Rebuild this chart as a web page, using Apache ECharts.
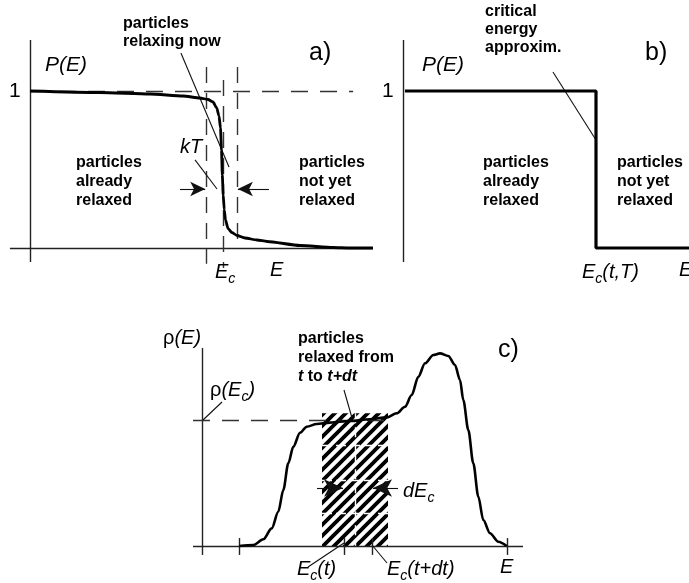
<!DOCTYPE html>
<html><head><meta charset="utf-8">
<script src="https://cdn.jsdelivr.net/npm/echarts@6/dist/echarts.min.js"></script>
<style>html,body{margin:0;padding:0;background:#fff}#c{width:689px;height:583px}</style>
</head><body><div id="c"></div>
<script>
// ---------- DATA ----------
// Panel a: E in units of Ec, P(E) in 0..1
const curveA = [[0,1.0],[0.3627,0.9904],[0.6218,0.9809],[0.7927,0.9682],[0.8808,0.9554],[0.9223,0.9459],[0.9482,0.9299],[0.9674,0.8917],[0.9793,0.8408],[0.9870,0.7643],[0.9922,0.6242],[0.9964,0.4650],[1.0010,0.3376],[1.0067,0.2420],[1.0130,0.1783],[1.0259,0.1242],[1.0466,0.0987],[1.0725,0.0796],[1.1140,0.0637],[1.1762,0.0510],[1.2280,0.0414],[1.3990,0.0159],[1.5699,0.0032],[1.6580,0],[1.777,0]];
const EcA = 1.0;
const kTWindow = [0.912, 1.073];
// Panel b: critical energy step
const stepB = [[0.01,1],[1,1],[1,0],[1.482,0]];
// Panel c: density of states rho(E), rho(Ec) = 1
const curveC = [[0.373,0],[0.513,0.008],[0.613,0.053],[0.697,0.140],[0.763,0.272],[0.813,0.444],[0.863,0.656],[0.913,0.788],[0.98,0.899],[1.047,0.947],[1.147,0.968],[1.28,0.979],[1.48,0.992],[1.68,1.006],[1.847,1.021],[1.947,1.053],[2.03,1.105],[2.097,1.198],[2.163,1.343],[2.23,1.450],[2.313,1.516],[2.38,1.529],[2.463,1.508],[2.53,1.437],[2.58,1.317],[2.613,1.159],[2.663,0.921],[2.713,0.656],[2.763,0.392],[2.813,0.206],[2.88,0.101],[2.963,0.034],[3.047,0]];
const rhoEc = 1;
const EcT = 1.42, EcTdt = 1.70;
const ticksC = [0.373, 1.42, 1.70, 3.05];
const hatchC = [1.20, 1.86, 1.053];
const hatchGridX = [1.53];
const hatchGridY = [0.80, 0.52, 0.26];

// ---------- STYLE / LAYOUT ----------
const F = '"Liberation Sans", Arial, sans-serif';
function gridFor(x0, sx, y0, sy, xr, yr){
  return {left: x0 + xr[0]*sx, width: (xr[1]-xr[0])*sx, top: y0 - yr[1]*sy, height: (yr[1]-yr[0])*sy};
}
const G = [
  {x0:30, sx:193, y0:248, sy:157, xr:[-0.12,1.8], yr:[-0.15,1.4]},
  {x0:403, sx:193, y0:248, sy:157, xr:[-0.05,1.48], yr:[-0.15,1.4]},
  {x0:202, sx:100, y0:546, sy:126, xr:[-0.1,3.3], yr:[-0.2,1.6]}
];
const axisStyle = {color:'#222', width:1.4, type:'solid'};
const dashStyle = {color:'#333', width:1.4, type:[17,12]};
const vdashStyle = {color:'#333', width:1.4, type:[16,10]};
const thinStyle = {color:'#111', width:1.1, type:'solid'};
const whiteStyle = {color:'#fff', width:1.4, type:[10,4]};
function seg(p, q, style, s1, s2, sz){
  const size = sz || [11,15];
  return [{coord:p, symbol:s1||'none', symbolSize:size, lineStyle:style},
          {coord:q, symbol:s2||'none', symbolSize:size, lineStyle:style}];
}
function ml(data){ return {silent:true, animation:false, label:{show:false}, emphasis:{disabled:true}, data:data}; }

// pattern for hatch
const pc = document.createElement('canvas'); pc.width = 11; pc.height = 11;
const g2 = pc.getContext('2d'); g2.strokeStyle = '#000'; g2.lineWidth = 3.8; g2.lineCap='square';
g2.beginPath(); g2.moveTo(-2,13); g2.lineTo(13,-2); g2.moveTo(-2,2); g2.lineTo(2,-2); g2.moveTo(9,13); g2.lineTo(13,9); g2.stroke();

const chart = echarts.init(document.getElementById('c'), null, {renderer:'canvas'});

const markA = ml([
  seg([-0.104,0],[1.777,0], axisStyle),
  seg([0,1.325],[0,-0.089], axisStyle),
  seg([0,1],[1.674,1], dashStyle),
  seg([kTWindow[0],1.153],[kTWindow[0],-0.1], vdashStyle),
  seg([kTWindow[1],1.153],[kTWindow[1],0.019], vdashStyle),
  seg([EcA,1.07],[EcA,-0.127], vdashStyle),
  seg([0.782,1.242],[1.031,0.516], thinStyle),
  seg([0.855,0.561],[0.969,0.376], thinStyle),
  seg([0.777,0.376],[kTWindow[0]-0.004,0.376], thinStyle, 'none','arrow'),
  seg([1.238,0.376],[kTWindow[1]+0.004,0.376], thinStyle, 'none','arrow')
]);
const markB = ml([
  seg([-0.041,0],[1.482,0], axisStyle),
  seg([0,1.325],[0,-0.089], axisStyle),
  seg([0,1],[1.482,1], dashStyle),
  seg([0.777,1.121],[1.0,0.688], thinStyle)
]);
const markCdata = [
  seg([-0.09,0],[3.21,0], axisStyle),
  seg([0,1.571],[0,-0.071], axisStyle),
  seg([-0.09,rhoEc],[1.87,rhoEc], dashStyle),
  seg([0.2,1.143],[0.01,1.0], thinStyle),
  seg([1.42,1.238],[1.50,1.016], thinStyle),
  seg([1.06,-0.167],[EcT,0.024], thinStyle),
  seg([1.85,-0.135],[EcTdt,0.008], thinStyle),
  seg([1.15,0.46],[EcT-0.01,0.46], thinStyle,'none','arrow',[13,19]),
  seg([1.96,0.46],[EcTdt+0.01,0.46], thinStyle,'none','arrow',[13,19])
];
ticksC.forEach(t => markCdata.push(seg([t,0.063],[t,-0.071], axisStyle)));
const markC = ml(markCdata);
const whiteData = [];
hatchGridX.forEach(x => whiteData.push(seg([x,hatchC[2]],[x,0], whiteStyle)));
hatchGridY.forEach(y => whiteData.push(seg([hatchC[0],y],[hatchC[1],y], whiteStyle)));

function txt(x, y, text, font, extra){
  return {type:'text', x:x, y:y, z:100, silent:true,
    style:Object.assign({text:text, font:font, fill:'#000', textAlign:'left', align:'left', textVerticalAlign:'middle', verticalAlign:'middle'}, extra||{})};
}
const it20 = 'italic 20px ' + F;
const rEc = {i:{font:it20, lineHeight:28, verticalAlign:'middle'}, u:{font:'20px '+F, lineHeight:28}, s:{font:'italic 14px '+F, lineHeight:14, verticalAlign:'bottom'}};
const bold = 'bold 16px ' + F;

const graphics = [
  // panel a
  txt(9, 91, '1', '21px '+F),
  txt(45, 65, 'P(E)', 'italic 21px '+F),
  txt(309, 53, 'a)', '25px '+F),
  txt(123, 33, 'particles\nrelaxing now', bold, {lineHeight:18}),
  txt(180, 147, 'kT', it20),
  txt(76, 182, 'particles\nalready\nrelaxed', bold, {lineHeight:19}),
  txt(299, 182, 'particles\nnot yet\nrelaxed', bold, {lineHeight:19}),
  txt(215, 272, '{i|E}{s|c}', it20, {rich:rEc}),
  txt(270, 270, 'E', it20),
  // panel b
  txt(382, 91, '1', '21px '+F),
  txt(422, 65, 'P(E)', 'italic 21px '+F),
  txt(645, 53, 'b)', '25px '+F),
  txt(485, 30, 'critical\nenergy\napproxim.', bold, {lineHeight:18}),
  txt(483, 182, 'particles\nalready\nrelaxed', bold, {lineHeight:19}),
  txt(617, 182, 'particles\nnot yet\nrelaxed', bold, {lineHeight:19}),
  txt(582, 272, '{i|E}{s|c}{i|(t,T)}', it20, {rich:rEc}),
  txt(679, 270, 'E', it20),
  // panel c
  txt(163, 338, '{u|ρ}{i|(E)}', it20, {rich:rEc}),
  txt(210, 390, '{u|ρ}{i|(E}{s|c}{i|)}', it20, {rich:rEc}),
  txt(498, 350, 'c)', '25px '+F),
  txt(298, 358, '{b|particles}\n{b|relaxed from}\n{bi|t}{b| to }{bi|t+dt}', bold,
      {rich:{b:{font:bold, lineHeight:19}, bi:{font:'bold italic 16px '+F, lineHeight:19}}}),
  txt(403, 491, '{i|dE}{s|c}', it20, {rich:rEc}),
  txt(297, 569, '{i|E}{s|c}{i|(t)}', it20, {rich:rEc}),
  txt(387, 569, '{i|E}{s|c}{i|(t+dt)}', it20, {rich:rEc}),
  txt(500, 567, 'E', it20)
];

const option = {
  animation:false,
  backgroundColor:'#fff',
  grid: G.map(g => Object.assign(gridFor(g.x0,g.sx,g.y0,g.sy,g.xr,g.yr), {containLabel:false})),
  xAxis: G.map((g,i) => ({type:'value', gridIndex:i, min:g.xr[0], max:g.xr[1], show:false})),
  yAxis: G.map((g,i) => ({type:'value', gridIndex:i, min:g.yr[0], max:g.yr[1], show:false})),
  series: [
    {type:'line', xAxisIndex:0, yAxisIndex:0, data:curveA, showSymbol:false, smooth:0.2, smoothMonotone:'x',
     lineStyle:{color:'#000', width:2.8}, z:5, markLine:markA},
    {type:'line', xAxisIndex:1, yAxisIndex:1, data:stepB, showSymbol:false,
     lineStyle:{color:'#000', width:3.2}, z:5, markLine:markB},
    {type:'line', xAxisIndex:2, yAxisIndex:2, data:[], showSymbol:false, z:1,
     markArea:{silent:true, itemStyle:{color:{image:pc, repeat:'repeat'}, opacity:1, borderWidth:0},
       data:[[{coord:[hatchC[0],0]},{coord:[hatchC[1],hatchC[2]]}]]},
     markLine:ml(whiteData)},
    {type:'line', xAxisIndex:2, yAxisIndex:2, data:curveC, showSymbol:false, smooth:0.3, smoothMonotone:'x',
     lineStyle:{color:'#000', width:2.6}, z:5, markLine:markC}
  ],
  graphic: graphics
};
chart.setOption(option);
</script>
</body></html>
